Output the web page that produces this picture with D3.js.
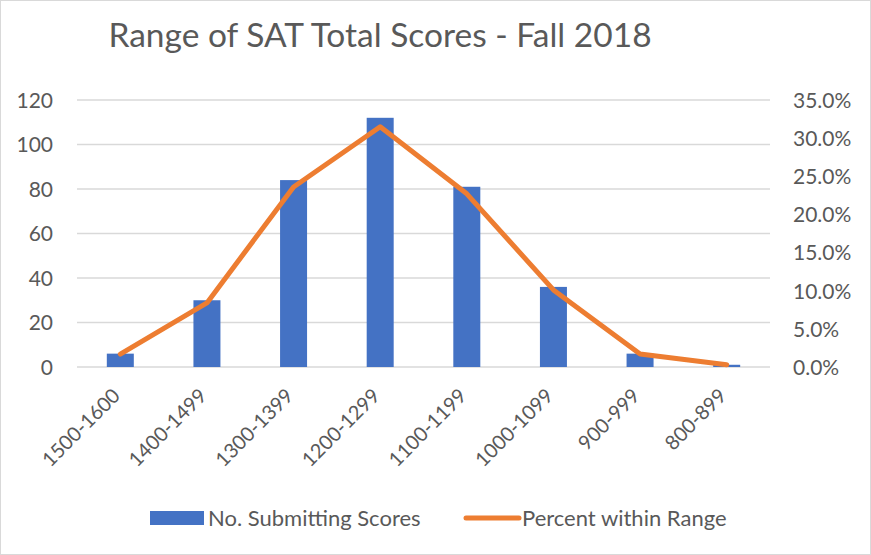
<!DOCTYPE html>
<html>
  <head>
    <script src="https://d3js.org/d3.v7.min.js"></script>
    <style>
      body {
        margin: 0;
        background: #ffffff;
      }
      text {
        font-family: Lato, "Open Sans", sans-serif;
        fill: #595959;
      }
    </style>
  </head>
  <body>
    <div id="chartContainer"></div>
  </body>

  <script type="text/javascript">
    // values
    const ranges = [
      "1500-1600",
      "1400-1499",
      "1300-1399",
      "1200-1299",
      "1100-1199",
      "1000-1099",
      "900-999",
      "800-899",
    ];
    const submitting = [6, 30, 84, 112, 81, 36, 6, 1];
    const percent = [0.017, 0.084, 0.236, 0.315, 0.227, 0.101, 0.017, 0.003];
    const countTicks = [0, 20, 40, 60, 80, 100, 120];
    const percentTicks = [0, 0.05, 0.1, 0.15, 0.2, 0.25, 0.3, 0.35];

    const width = 871,
      height = 555;
    const margin = { top: 100, right: 101, bottom: 188, left: 77 };

    const svg = d3
      .select("#chartContainer")
      .append("svg")
      .attr("width", width)
      .attr("height", height);

    // chart border
    svg
      .append("rect")
      .attr("x", 0.5)
      .attr("y", 0.5)
      .attr("width", width - 1)
      .attr("height", height - 1)
      .attr("fill", "none")
      .attr("stroke", "#d9d9d9");

    svg
      .append("text")
      .attr("x", 380)
      .attr("y", 47)
      .attr("text-anchor", "middle")
      .style("font-size", "33.5px")
      .text("Range of SAT Total Scores - Fall 2018");

    const x = d3
      .scaleBand()
      .domain(ranges)
      .range([margin.left, width - margin.right]);

    const y = d3
      .scaleLinear()
      .domain([0, 120])
      .range([height - margin.bottom, margin.top]);

    const y2 = d3
      .scaleLinear()
      .domain([0, 0.35])
      .range([height - margin.bottom, margin.top]);

    // gridlines
    svg
      .append("g")
      .selectAll("line")
      .data(countTicks)
      .enter()
      .append("line")
      .attr("x1", margin.left)
      .attr("x2", width - margin.right)
      .attr("y1", (d) => y(d))
      .attr("y2", (d) => y(d))
      .attr("stroke", "#d9d9d9")
      .attr("stroke-width", 1.5);

    // left axis
    const leftAxis = svg
      .append("g")
      .attr("transform", `translate(${margin.left - 24},0)`)
      .call(d3.axisLeft(y).tickValues(countTicks).tickSize(0).tickPadding(0));
    leftAxis.select(".domain").remove();
    leftAxis.selectAll("text").style("font-size", "21px").attr("dy", "0.35em");

    // right axis
    const rightAxis = svg
      .append("g")
      .attr("transform", `translate(${width - margin.right + 23},0)`)
      .call(
        d3
          .axisRight(y2)
          .tickValues(percentTicks)
          .tickFormat(d3.format(".1%"))
          .tickSize(0)
          .tickPadding(0)
      );
    rightAxis.select(".domain").remove();
    rightAxis.selectAll("text").style("font-size", "21px").attr("dy", "0.35em");

    // x labels
    svg
      .append("g")
      .selectAll("text")
      .data(ranges)
      .enter()
      .append("text")
      .attr("text-anchor", "end")
      .style("font-size", "20px")
      .attr(
        "transform",
        (d) =>
          `translate(${x(d) + x.bandwidth() / 2 + 1},${height - margin.bottom + 30}) rotate(-45)`
      )
      .text((d) => d);

    // bars
    const barW = 27;
    svg
      .append("g")
      .selectAll("rect")
      .data(submitting)
      .enter()
      .append("rect")
      .attr("x", (d, i) => x(ranges[i]) + x.bandwidth() / 2 - barW / 2)
      .attr("y", (d) => y(d))
      .attr("width", barW)
      .attr("height", (d) => y(0) - y(d))
      .attr("fill", "#4472c4");

    // percent line
    const line = d3
      .line()
      .x((d, i) => x(ranges[i]) + x.bandwidth() / 2)
      .y((d) => y2(d));

    svg
      .append("path")
      .datum(percent)
      .attr("d", line)
      .attr("fill", "none")
      .attr("stroke", "#ed7d31")
      .attr("stroke-width", 5)
      .attr("stroke-linejoin", "round")
      .attr("stroke-linecap", "round");

    // legend
    const legend = svg.append("g");
    legend
      .append("rect")
      .attr("x", 150)
      .attr("y", 511)
      .attr("width", 54)
      .attr("height", 14)
      .attr("fill", "#4472c4");
    legend
      .append("text")
      .attr("x", 208)
      .attr("y", 526)
      .style("font-size", "22px")
      .text("No. Submitting Scores");
    legend
      .append("line")
      .attr("x1", 466)
      .attr("x2", 519)
      .attr("y1", 518)
      .attr("y2", 518)
      .attr("stroke", "#ed7d31")
      .attr("stroke-width", 5)
      .attr("stroke-linecap", "round");
    legend
      .append("text")
      .attr("x", 522)
      .attr("y", 526)
      .style("font-size", "22px")
      .text("Percent within Range");
  </script>
</html>
